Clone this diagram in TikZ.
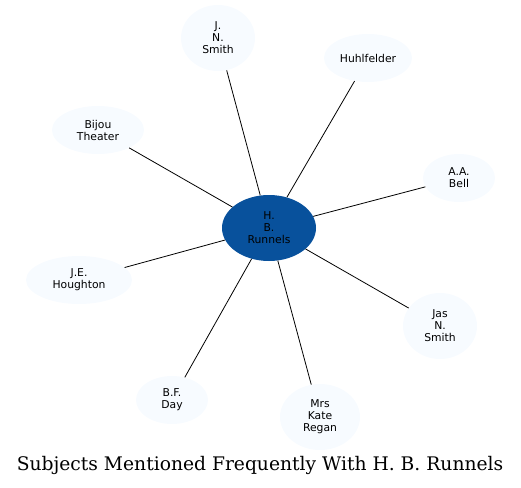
\documentclass[tikz,border=0pt]{standalone}
\usepackage{fontspec}
\setmainfont{DejaVu Serif}
\newfontfamily\nodefont{DejaVu Sans}
\usetikzlibrary{shapes.geometric}
\definecolor{leaf}{HTML}{F7FBFF}
\definecolor{hub}{HTML}{08519C}
\begin{document}
\begin{tikzpicture}[x=1pt,y=-1pt,
  leafnode/.style={ellipse,fill=leaf,draw=none,inner sep=0pt,align=center,font=\nodefont\fontsize{10.8}{12}\selectfont},
  hubnode/.style={ellipse,fill=hub,draw=none,inner sep=0pt,align=center,font=\nodefont\fontsize{10.8}{12}\selectfont},
  link/.style={draw=black,line width=0.8pt}]
\useasboundingbox (0,0) rectangle (521,487);
\node[hubnode,minimum width=94pt,minimum height=66pt] (hb) at (269,228) {H.\\B.\\Runnels};
\node[leafnode,minimum width=74pt,minimum height=66pt] (jns) at (218,38) {J.\\N.\\Smith};
\node[leafnode,minimum width=88pt,minimum height=48pt] (hu) at (368,58) {Huhlfelder};
\node[leafnode,minimum width=72pt,minimum height=48pt] (aab) at (459,178) {A.A.\\Bell};
\node[leafnode,minimum width=92pt,minimum height=48pt] (bt) at (98,130) {Bijou\\Theater};
\node[leafnode,minimum width=106pt,minimum height=48pt] (jeh) at (79,280) {J.E.\\Houghton};
\node[leafnode,minimum width=74pt,minimum height=66pt] (jas) at (440,326) {Jas\\N.\\Smith};
\node[leafnode,minimum width=72pt,minimum height=48pt] (bfd) at (172,400) {B.F.\\Day};
\node[leafnode,minimum width=80pt,minimum height=66pt] (mkr) at (320,417) {Mrs\\Kate\\Regan};
\node[font=\fontsize{18.7}{22}\selectfont] (title) at (260,465) {Subjects Mentioned Frequently With H. B. Runnels};
\foreach \n in {jns,hu,aab,bt,jeh,jas,bfd,mkr} \draw[link] (hb) -- (\n);
\end{tikzpicture}
\end{document}
